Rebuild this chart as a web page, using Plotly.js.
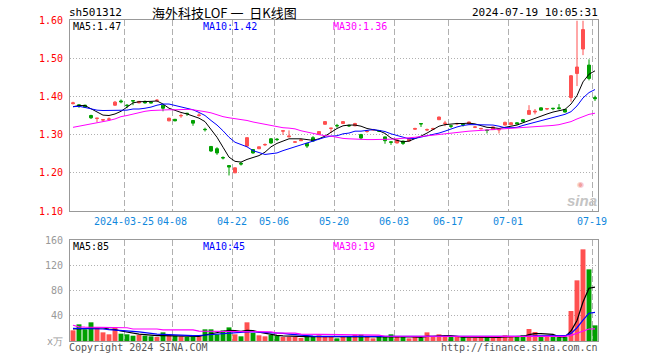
<!DOCTYPE html>
<html><head><meta charset="utf-8">
<script src="https://cdn.plot.ly/plotly-3.0.1.min.js"></script>
<style>html,body{margin:0;padding:0;background:#fff}#chart{width:660px;height:360px}</style>
</head><body><div id="chart"></div>
<script>
const dates = [
'03-12','03-13','03-14','03-15','03-18','03-19','03-20','03-21','03-22','03-25','03-26','03-27','03-28','03-29',
'04-01','04-02','04-03','04-08','04-09','04-10','04-11','04-12','04-15','04-16','04-17','04-18','04-19','04-22','04-23','04-24','04-25','04-26','04-29','04-30',
'05-06','05-07','05-08','05-09','05-10','05-13','05-14','05-15','05-16','05-17','05-20','05-21','05-22','05-23','05-24','05-27','05-28','05-29','05-30','05-31',
'06-03','06-04','06-05','06-06','06-07','06-11','06-12','06-13','06-14','06-17','06-18','06-19','06-20','06-21','06-24','06-25','06-26','06-27','06-28',
'07-01','07-02','07-03','07-04','07-05','07-08','07-09','07-10','07-11','07-12','07-15','07-16','07-17','07-18','07-19'];

const open = [1.381,1.378,1.377,1.350,1.342,1.338,1.340,1.377,1.388,1.377,
1.389,1.383,1.387,1.385,1.389,1.377,1.336,1.340,1.349,1.356,
1.337,1.350,1.314,1.269,1.263,1.240,1.219,1.200,1.225,1.270,
1.261,1.263,1.273,1.289,1.288,1.309,1.294,1.280,1.284,1.277,
1.292,1.300,1.327,1.316,1.324,1.329,1.324,1.323,1.300,1.308,
1.312,1.310,1.294,1.281,1.278,1.283,1.283,1.314,1.329,1.312,
1.314,1.339,1.329,1.323,1.328,1.327,1.328,1.319,1.315,1.312,
1.313,1.312,1.325,1.326,1.331,1.339,1.353,1.359,1.370,1.367,
1.369,1.370,1.366,1.397,1.460,1.524,1.482,1.397];
const high = [1.386,1.380,1.378,1.352,1.343,1.340,1.345,1.388,1.392,1.380,
1.389,1.388,1.389,1.386,1.393,1.379,1.344,1.341,1.355,1.356,
1.338,1.356,1.318,1.270,1.267,1.243,1.220,1.214,1.228,1.293,
1.262,1.269,1.277,1.291,1.291,1.310,1.311,1.283,1.289,1.278,
1.296,1.309,1.335,1.317,1.328,1.335,1.326,1.331,1.302,1.311,
1.315,1.312,1.295,1.281,1.287,1.284,1.290,1.318,1.329,1.316,
1.318,1.347,1.336,1.325,1.331,1.328,1.334,1.322,1.318,1.312,
1.321,1.314,1.334,1.333,1.332,1.341,1.377,1.367,1.371,1.369,
1.370,1.380,1.367,1.456,1.598,1.598,1.497,1.402];
const low = [1.379,1.370,1.371,1.341,1.332,1.334,1.336,1.375,1.382,1.369,
1.377,1.382,1.381,1.382,1.385,1.361,1.335,1.335,1.344,1.349,
1.323,1.347,1.308,1.255,1.247,1.235,1.193,1.199,1.219,1.268,
1.250,1.262,1.270,1.276,1.283,1.299,1.293,1.279,1.283,1.265,
1.281,1.299,1.326,1.304,1.318,1.328,1.320,1.322,1.287,1.305,
1.311,1.307,1.276,1.273,1.277,1.273,1.282,1.312,1.320,1.309,
1.312,1.338,1.322,1.317,1.325,1.321,1.327,1.317,1.314,1.303,
1.312,1.303,1.324,1.325,1.327,1.333,1.352,1.353,1.363,1.364,
1.364,1.366,1.358,1.386,1.427,1.508,1.442,1.388];
const close = [1.383,1.376,1.372,1.344,1.343,1.339,1.341,1.385,1.386,1.376,
1.388,1.387,1.383,1.383,1.390,1.369,1.343,1.336,1.350,1.355,
1.330,1.351,1.313,1.257,1.252,1.239,1.215,1.213,1.223,1.292,
1.252,1.268,1.274,1.278,1.287,1.310,1.296,1.281,1.286,1.270,
1.283,1.308,1.334,1.317,1.323,1.334,1.323,1.329,1.291,1.309,
1.313,1.309,1.284,1.280,1.286,1.277,1.289,1.316,1.328,1.313,
1.316,1.346,1.330,1.322,1.329,1.326,1.333,1.320,1.316,1.311,
1.320,1.314,1.332,1.331,1.328,1.334,1.363,1.361,1.364,1.368,
1.368,1.368,1.359,1.454,1.477,1.575,1.447,1.394];

const ma5 = [1.373,1.376,1.376,1.367,1.358,1.351,1.350,1.354,1.361,1.371,
1.383,1.386,1.386,1.387,1.388,1.380,1.369,1.363,1.358,1.354,
1.348,1.343,1.334,1.315,1.293,1.267,1.241,1.230,1.228,1.235,
1.239,1.245,1.254,1.268,1.277,1.283,1.289,1.289,1.289,1.287,
1.285,1.289,1.296,1.306,1.316,1.323,1.325,1.325,1.322,1.316,
1.313,1.310,1.303,1.291,1.285,1.281,1.283,1.289,1.296,1.304,
1.313,1.322,1.326,1.328,1.329,1.329,1.330,1.328,1.324,1.319,
1.318,1.316,1.319,1.322,1.325,1.331,1.337,1.344,1.350,1.354,
1.359,1.363,1.366,1.380,1.402,1.438,1.458,1.467];
const ma10 = [1.373,1.374,1.371,1.367,1.364,1.363,1.363,1.363,1.363,1.364,
1.367,1.367,1.369,1.372,1.377,1.380,1.380,1.376,1.371,1.369,
1.365,1.358,1.350,1.337,1.325,1.310,1.293,1.280,1.273,1.268,
1.258,1.252,1.248,1.250,1.252,1.258,1.263,1.270,1.274,1.278,
1.283,1.289,1.293,1.296,1.297,1.302,1.304,1.309,1.309,1.311,
1.313,1.311,1.308,1.302,1.297,1.292,1.289,1.290,1.293,1.297,
1.300,1.304,1.309,1.315,1.320,1.324,1.326,1.326,1.326,1.326,
1.325,1.322,1.318,1.318,1.319,1.324,1.328,1.332,1.337,1.341,
1.344,1.348,1.353,1.360,1.375,1.396,1.410,1.418];
const ma30 = [1.319,1.322,1.324,1.327,1.330,1.334,1.337,1.341,1.347,1.350,
1.354,1.358,1.361,1.363,1.364,1.365,1.365,1.365,1.366,1.366,
1.365,1.363,1.360,1.357,1.351,1.347,1.344,1.342,1.339,1.337,
1.333,1.330,1.327,1.323,1.320,1.318,1.317,1.315,1.310,1.306,
1.303,1.300,1.297,1.296,1.293,1.290,1.289,1.288,1.287,1.287,
1.287,1.287,1.287,1.288,1.289,1.290,1.291,1.293,1.295,1.297,
1.299,1.301,1.303,1.305,1.307,1.308,1.309,1.310,1.311,1.312,
1.313,1.314,1.315,1.316,1.317,1.318,1.319,1.320,1.321,1.322,
1.324,1.326,1.329,1.334,1.341,1.348,1.353,1.356];

const volume = [16.9,26.4,18.5,29.6,21.1,13.7,10.6,21.6,11.6,10.6,
8.4,9.5,8.4,7.4,6.3,13.7,9.0,8.4,7.4,6.3,
7.4,7.4,18.5,18.5,10.6,16.9,21.6,10.6,7.4,29.6,
12.7,9.0,7.4,9.5,8.4,6.3,6.3,6.3,4.8,6.3,
6.3,9.0,7.4,6.3,4.2,6.3,6.3,10.0,10.0,6.3,
4.2,6.3,7.4,10.6,6.3,6.3,4.2,6.3,5.3,13.7,
6.3,10.6,6.3,6.3,6.3,6.3,5.3,5.3,6.3,6.3,
5.3,6.3,9.0,6.3,6.3,9.5,19.0,14.3,6.3,6.3,
6.3,6.3,6.3,47.5,96.1,145.2,113.5,24.8];
const volMa5 = [19,19,19.5,20.6,20.6,20.6,19,18,15.8,14,
13,11,10,9,8.4,8.4,8.4,8,8,7.9,
7.4,7.4,9.5,11.6,12.7,14.8,17,16.5,15.3,16.9,
16.5,14,12,10.5,9,8,7.5,7.4,7,7,
7,7,7.2,7.2,6.8,6.3,6.3,6.6,7.4,7.5,
7.3,7.3,6.8,7.2,7,7,6.8,6.5,5.8,7.2,
7.2,8.2,8.4,8.6,7,6.2,6,5.8,5.6,5.6,
5.6,5.6,6.5,6.6,6.6,7.2,10,11.8,11.8,11.5,
10.6,6.5,6.3,15.8,32.4,61.8,83.7,85.4];
const volMa10 = [20,20,20,20,20,19,18,17.5,17,16,
15.3,14.3,13,12,11,10.5,10,9.5,9,8.7,
8.4,8.7,9.5,10.5,11,12,12.7,13.2,13.7,14.3,
14.3,14,13.7,13.7,13,12,11,10,9,8,
7.6,7.4,7.4,7.4,7.4,7.3,7.2,7.1,7,7,
7,7,7,7,7,7,7,6.9,6.6,6.5,
6.5,6.5,6.5,6.4,6.3,6.3,6.3,6.3,6.3,6.3,
6.3,6.3,6.3,6.3,6.5,6.8,7.5,8,8.2,8.3,
8.4,8.4,8.4,12,21,33,44,45.3];
const volMa30 = [25,22.5,22,22,22,22,22,21,21,21,
19,19,19,19,19,17.5,17.5,17.5,17.5,17.5,
17.5,15.8,15.6,15.5,15.4,15.3,15.2,15.1,14.6,14.5,
14.5,14.5,14.5,14.4,12.6,12.5,12.5,12.4,10.9,10.8,
10.8,10.8,10.7,10.7,9.6,9.6,9.5,9.5,9.5,9.5,
9.5,9.4,7.5,7.5,7.5,7.4,7.4,7.4,7.4,7.4,
7.4,7.4,7.4,7.4,7.4,7.4,7.4,7.4,7.4,7.4,
7.4,7.4,7.4,7.4,7.4,7.4,7.4,7.4,7.4,7.4,
7.4,7.4,7.4,9,12,16,19,19.3];

const tickDates = ['03-25','04-08','04-22','05-06','05-20','06-03','06-17','07-01','07-19'];
const tickLabels = ['2024-03-25','04-08','04-22','05-06','05-20','06-03','06-17','07-01','07-19'];
const priceTicks = [1.10,1.20,1.30,1.40,1.50,1.60];
const volTicks = [0,40,80,120,160];
const volTickText = ['x万','40','80','120','160'];

const idx = dates.map((d,i)=>i);
const tickPos = tickDates.map(d => dates.indexOf(d) - 0.5);
const RED = '#ff5050', GREEN = '#00a000';
const volColors = close.map((c,i)=> c >= open[i] ? RED : GREEN);
const MONO = 'DejaVu Sans Mono, monospace';

const traces = [
  {type:'candlestick', x:idx, open:open, high:high, low:low, close:close,
   xaxis:'x', yaxis:'y', hoverinfo:'skip', showlegend:false,
   increasing:{line:{color:RED,width:1}, fillcolor:RED},
   decreasing:{line:{color:GREEN,width:1}, fillcolor:GREEN}},
  {type:'scatter', mode:'lines', x:idx, y:ma5, line:{color:'#000000',width:1}, xaxis:'x', yaxis:'y', hoverinfo:'skip', showlegend:false},
  {type:'scatter', mode:'lines', x:idx, y:ma10, line:{color:'#0000ff',width:1}, xaxis:'x', yaxis:'y', hoverinfo:'skip', showlegend:false},
  {type:'scatter', mode:'lines', x:idx, y:ma30, line:{color:'#ff00ff',width:1}, xaxis:'x', yaxis:'y', hoverinfo:'skip', showlegend:false},
  {type:'bar', x:idx, y:volume, marker:{color:volColors, line:{width:0}}, width:0.82, xaxis:'x2', yaxis:'y2', hoverinfo:'skip', showlegend:false},
  {type:'scatter', mode:'lines', x:idx, y:volMa5, line:{color:'#000000',width:1.2}, xaxis:'x2', yaxis:'y2', hoverinfo:'skip', showlegend:false},
  {type:'scatter', mode:'lines', x:idx, y:volMa10, line:{color:'#0000ff',width:1.2}, xaxis:'x2', yaxis:'y2', hoverinfo:'skip', showlegend:false},
  {type:'scatter', mode:'lines', x:idx, y:volMa30, line:{color:'#ff00ff',width:1.2}, xaxis:'x2', yaxis:'y2', hoverinfo:'skip', showlegend:false}
];

const xCommon = {range:[-0.5, dates.length-0.5], showline:true, mirror:true, linecolor:'#999', linewidth:1,
  zeroline:false, showgrid:true, gridcolor:'#b0b0b0', griddash:'6px,3px', gridwidth:1,
  tickmode:'array', tickvals:tickPos, ticks:'', fixedrange:true};

function ann(text, xpx, ypx, color, anchor, size, family){
  return {text:text, xref:'paper', yref:'paper', x:(xpx-70)/528, y:(341-ypx)/321,
    xanchor:anchor, yanchor:'middle', showarrow:false, borderpad:0,
    font:{family:family||MONO, size:size||10, color:color}};
}

const NB = '\u00a0';
const layout = {
  width:660, height:360, margin:{l:70, r:62, t:20, b:19},
  paper_bgcolor:'#ffffff', plot_bgcolor:'#ffffff', showlegend:false,
  bargap:0.15,
  xaxis: Object.assign({}, xCommon, {anchor:'y', ticktext:tickLabels, showticklabels:true,
     tickfont:{family:MONO, size:10, color:'#1188dd'}, ticklabelstandoff:1, rangeslider:{visible:false}}),
  yaxis: {domain:[(341-211)/321, 1], range:[1.10,1.60], tickmode:'array', tickvals:priceTicks,
     ticktext:priceTicks.map(v=>v.toFixed(2)), tickfont:{family:MONO, size:10, color:'#ff0000'},
     showline:true, mirror:true, linecolor:'#999', linewidth:1, zeroline:false,
     gridcolor:'#b0b0b0', griddash:'1px,2px', ticks:'', ticklabelstandoff:4, fixedrange:true},
  xaxis2: Object.assign({}, xCommon, {anchor:'y2', showticklabels:false, matches:'x'}),
  yaxis2: {domain:[0, (341-240)/321], range:[0,160], tickmode:'array', tickvals:volTicks, ticktext:volTickText,
     tickfont:{family:MONO, size:10, color:'#999999'},
     showline:true, mirror:true, linecolor:'#999', linewidth:1, zeroline:false,
     gridcolor:'#b0b0b0', griddash:'1px,2px', ticks:'', ticklabelstandoff:4, fixedrange:true},
  annotations: [
    ann('sh501312', 68, 12, '#000000', 'left', 11),
    ann('海外科技LOF' + NB + '一' + NB + NB + '日K线图', 224, 12, '#000000', 'center', 13, 'Noto Sans CJK SC, sans-serif'),
    ann('2024-07-19 10:05:31', 599, 12, '#000000', 'right', 11),
    ann('MA5:1.47', 72, 26, '#000000', 'left', 10),
    ann('MA10:1.42', 202, 26, '#0000ff', 'left', 10),
    ann('MA30:1.36', 332, 26, '#ff00ff', 'left', 10),
    ann('MA5:85', 72, 246, '#000000', 'left', 10),
    ann('MA10:45', 202, 246, '#0000ff', 'left', 10),
    ann('MA30:19', 332, 246, '#ff00ff', 'left', 10),
    ann('Copyright 2024 SINA.COM', 68, 347, '#555555', 'left', 10),
    ann('http://finance.sina.com.cn', 599, 347, '#555555', 'right', 10),
    ann('<b><i>sina</i></b>', 582, 200, '#c4c4c4', 'center', 15, 'Liberation Sans, sans-serif'),
    ann('◉', 580, 185, '#f2a0a0', 'center', 8, 'DejaVu Sans, sans-serif')
  ]
};

Plotly.newPlot('chart', traces, layout, {staticPlot:true, displayModeBar:false});
</script>
</body></html>
